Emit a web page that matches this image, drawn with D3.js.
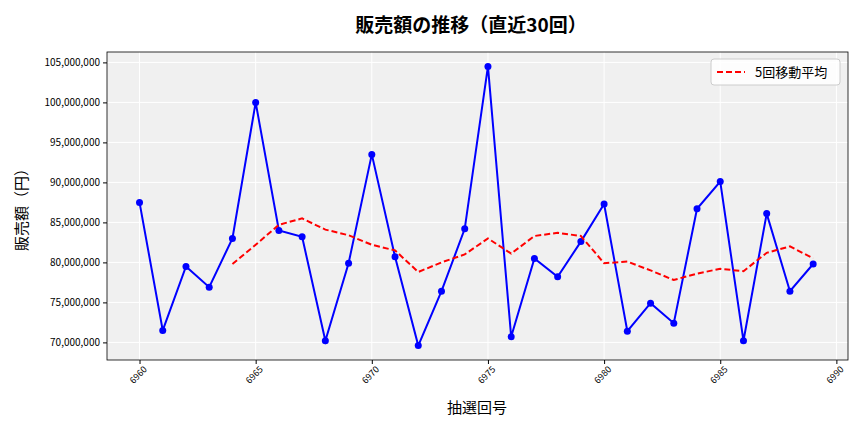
<!DOCTYPE html>
<html>
<head>
<meta charset="utf-8">
<script src="https://cdn.jsdelivr.net/npm/d3@7"></script>
<style>
  body { margin: 0; background: #fff; }
  text { font-family: "Noto Sans CJK JP", "DejaVu Sans", sans-serif; }
</style>
</head>
<body>
<svg id="chart" width="864" height="432"></svg>
<script>
const draws = [6960, 6961, 6962, 6963, 6964, 6965, 6966, 6967, 6968, 6969,
  6970, 6971, 6972, 6973, 6974, 6975, 6976, 6977, 6978, 6979,
  6980, 6981, 6982, 6983, 6984, 6985, 6986, 6987, 6988, 6989]
const sales = [87.5, 71.5, 79.5, 76.9, 83.0, 100.0, 84.0, 83.2, 70.2, 79.9,
  93.5, 80.7, 69.6, 76.4, 84.2, 104.5, 70.7, 80.5, 78.2, 82.6,
  87.3, 71.4, 74.9, 72.4, 86.7, 90.1, 70.2, 86.1, 76.4, 79.8].map(v => v * 1e6)
const maDraws = draws.slice(4)
const movingAvg = [79.8, 82.2, 84.7, 85.5, 84.1, 83.4, 82.2, 81.5, 78.8, 80.0,
  81.0, 83.0, 81.1, 83.3, 83.7, 83.3, 79.9, 80.1, 79.0, 77.8,
  78.6, 79.2, 78.9, 81.2, 82.0, 80.5].map(v => v * 1e6)
const yTicks = [70, 75, 80, 85, 90, 95, 100, 105].map(v => v * 1e6)
const xTicks = [6960, 6965, 6970, 6975, 6980, 6985, 6990]

const margin = { top: 52, right: 16, bottom: 72, left: 107 }
const width = 864 - margin.left - margin.right
const height = 432 - margin.top - margin.bottom
const svg = d3.select('#chart')

const xScale = d3.scaleLinear().domain([6958.6, 6990.5]).range([margin.left, margin.left + width])
const yScale = d3.scaleLinear().domain([67.8e6, 106.3e6]).range([margin.top + height, margin.top])

svg.append('rect')
  .attr('x', margin.left).attr('y', margin.top)
  .attr('width', width).attr('height', height)
  .attr('fill', '#f0f0f0')

const grid = svg.append('g')
grid.selectAll('.gx').data(xTicks).join('line')
  .attr('x1', d => xScale(d)).attr('x2', d => xScale(d))
  .attr('y1', margin.top).attr('y2', margin.top + height)
  .attr('stroke', '#fff').attr('stroke-width', 1)
grid.selectAll('.gy').data(yTicks).join('line')
  .attr('y1', d => yScale(d)).attr('y2', d => yScale(d))
  .attr('x1', margin.left).attr('x2', margin.left + width)
  .attr('stroke', '#fff').attr('stroke-width', 1)

const fmt = d3.format(',')
const leftAxis = svg.append('g')
  .attr('transform', `translate(${margin.left}, 0)`)
  .call(d3.axisLeft(yScale).tickValues(yTicks).tickFormat(fmt).tickSize(4).tickPadding(3))
leftAxis.selectAll('text').attr('font-size', 10).attr('fill', '#000')

const bottomAxis = svg.append('g')
  .attr('transform', `translate(0, ${margin.top + height})`)
  .call(d3.axisBottom(xScale).tickValues(xTicks).tickFormat(d3.format('d')).tickSize(4))
bottomAxis.selectAll('text')
  .attr('font-size', 9).attr('fill', '#000')
  .attr('text-anchor', 'end')
  .attr('transform', 'rotate(-45)')
  .attr('dx', '-0.2em').attr('dy', '0.6em')
svg.selectAll('.domain').remove()

svg.append('rect')
  .attr('x', margin.left).attr('y', margin.top)
  .attr('width', width).attr('height', height)
  .attr('fill', 'none').attr('stroke', '#000').attr('stroke-width', 0.8)

const linegen = d3.line().x(d => xScale(d[0])).y(d => yScale(d[1]))

svg.append('path')
  .attr('d', linegen(d3.zip(draws, sales)))
  .attr('fill', 'none').attr('stroke', '#0000ff').attr('stroke-width', 2)
svg.selectAll('.pt').data(d3.zip(draws, sales)).join('circle')
  .attr('cx', d => xScale(d[0])).attr('cy', d => yScale(d[1]))
  .attr('r', 3.5).attr('fill', '#0000ff')

svg.append('path')
  .attr('d', linegen(d3.zip(maDraws, movingAvg)))
  .attr('fill', 'none').attr('stroke', '#ff0000').attr('stroke-width', 2)
  .attr('stroke-dasharray', '6,3')

const legend = svg.append('g').attr('transform', 'translate(711, 59)')
legend.append('rect').attr('width', 129).attr('height', 26).attr('rx', 3)
  .attr('fill', '#fff').attr('fill-opacity', 0.85).attr('stroke', '#ccc')
legend.append('line').attr('x1', 6).attr('x2', 34).attr('y1', 13).attr('y2', 13)
  .attr('stroke', '#ff0000').attr('stroke-width', 2).attr('stroke-dasharray', '6,3')
legend.append('text').attr('x', 44).attr('y', 18).attr('font-size', 13).text('5回移動平均')

svg.append('text').attr('x', 471).attr('y', 32).attr('text-anchor', 'middle')
  .attr('font-size', 19).attr('font-weight', 'bold').text('販売額の推移（直近30回）')
svg.append('text').attr('x', 477).attr('y', 413).attr('text-anchor', 'middle')
  .attr('font-size', 15).text('抽選回号')
svg.append('text').attr('transform', 'translate(27, 206) rotate(-90)').attr('text-anchor', 'middle')
  .attr('font-size', 15).text('販売額（円）')
</script>
</body>
</html>
